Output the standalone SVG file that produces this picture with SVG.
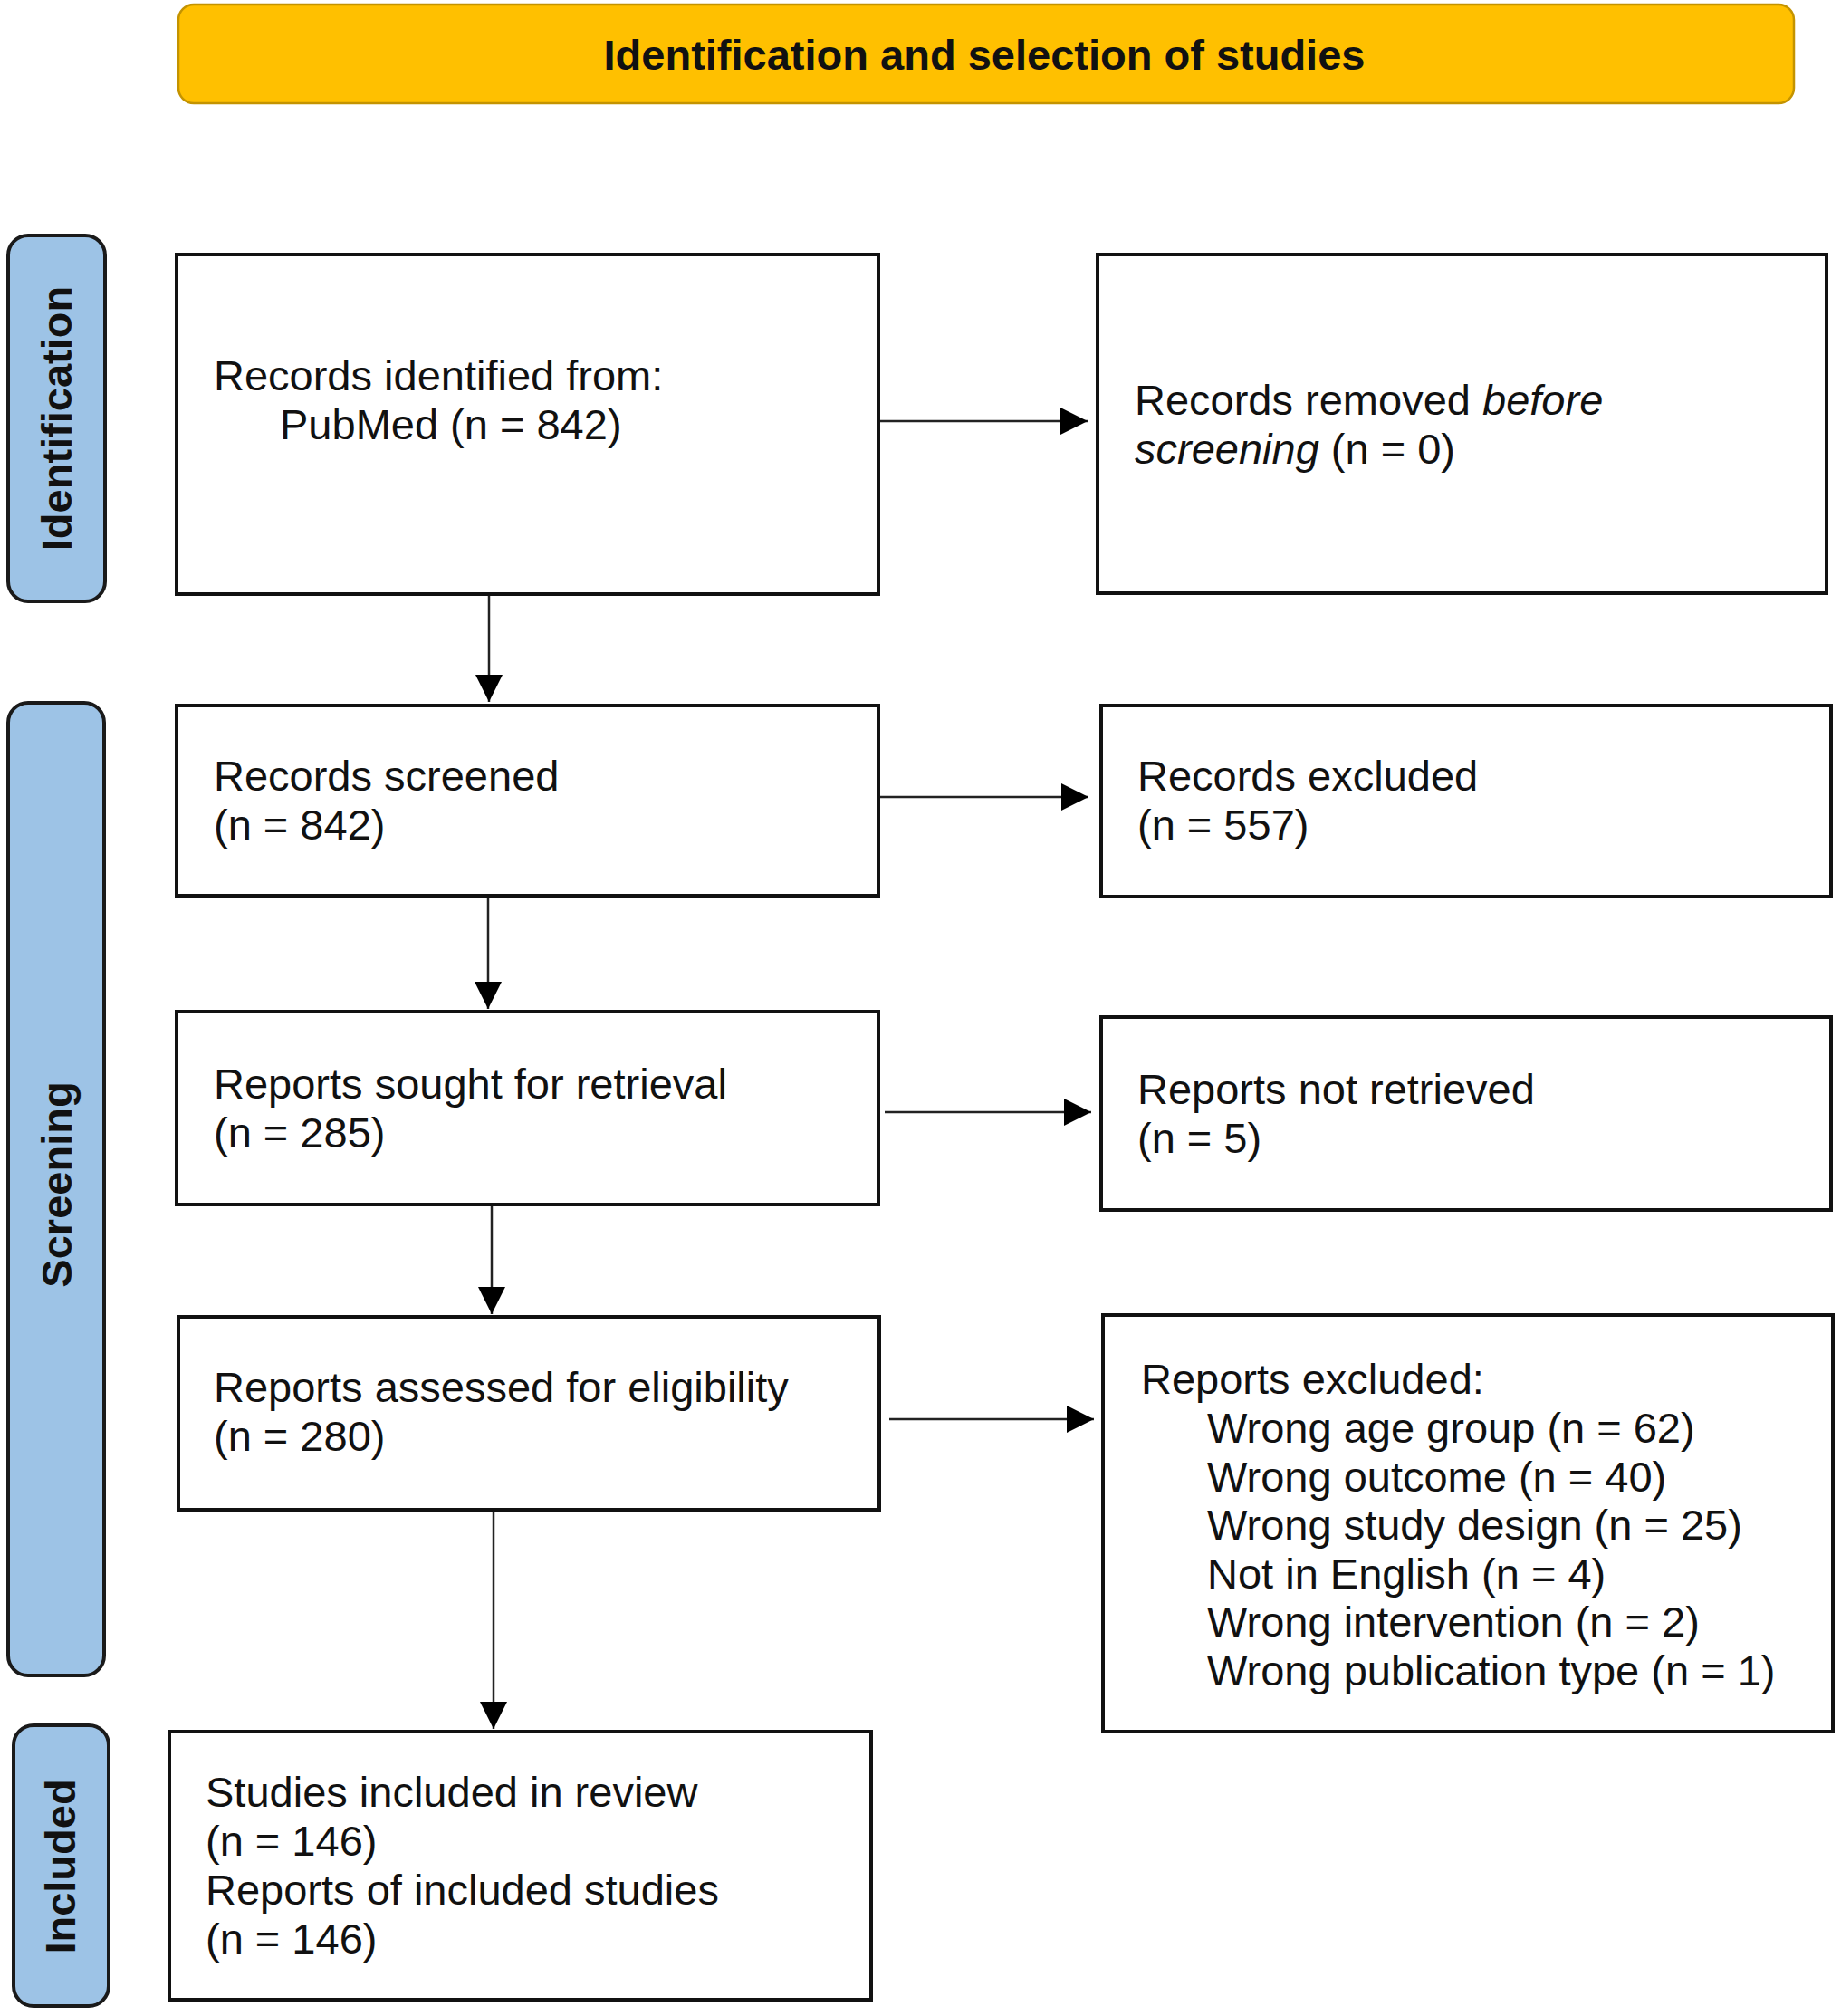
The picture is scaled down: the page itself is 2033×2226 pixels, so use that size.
<svg xmlns="http://www.w3.org/2000/svg" width="2033" height="2226" viewBox="0 0 2033 2226">
<style>
.box{fill:#ffffff;stroke:#111111;stroke-width:4}
.side{fill:#9dc3e6;stroke:#1a1a1a;stroke-width:4}
.banner{fill:#ffc000;stroke:#c49300;stroke-width:2.5}
.t{font-family:"Liberation Sans",Arial,sans-serif;font-size:47px;fill:#111111}
.b{font-family:"Liberation Sans",Arial,sans-serif;font-size:47px;font-weight:bold;fill:#111111}
.side-t{font-family:"Liberation Sans",Arial,sans-serif;font-size:47px;font-weight:bold;fill:#111111;text-anchor:middle}
.conn{stroke:#222222;stroke-width:2.5;fill:none;marker-end:url(#arrow)}
</style>
<defs>
<marker id="arrow" markerUnits="userSpaceOnUse" markerWidth="30" markerHeight="30" refX="30" refY="15" orient="auto">
<path d="M0,0 L30,15 L0,30 Z" fill="#000000"/>
</marker>
</defs>
<rect width="2033" height="2226" fill="#ffffff"/>
<g id="title">
<rect class="banner" x="197" y="5" width="1784" height="109" rx="17"/>
<text class="b" x="1087" y="77" text-anchor="middle">Identification and selection of studies</text>
</g>
<g id="label-identification">
<rect class="side" x="9" y="260" width="107" height="404" rx="22"/>
<text class="side-t" transform="translate(79,462) rotate(-90)">Identification</text>
</g>
<g id="label-screening">
<rect class="side" x="9" y="776" width="106" height="1074" rx="22"/>
<text class="side-t" transform="translate(79,1308) rotate(-90)">Screening</text>
</g>
<g id="label-included">
<rect class="side" x="15" y="1905" width="105" height="310" rx="22"/>
<text class="side-t" transform="translate(83,2061) rotate(-90)">Included</text>
</g>
<g id="records-identified">
<rect class="box" x="195" y="281" width="775" height="375"/>
<text class="t" x="236" y="431">Records identified from:</text>
<text class="t" x="309" y="485">PubMed (n = 842)</text>
</g>
<g id="records-removed">
<rect class="box" x="1212" y="281" width="805" height="374"/>
<text class="t" x="1253" y="458">Records removed <tspan font-style="italic">before</tspan></text>
<text class="t" x="1253" y="512"><tspan font-style="italic">screening</tspan> (n = 0)</text>
</g>
<g id="records-screened">
<rect class="box" x="195" y="779" width="775" height="210"/>
<text class="t" x="236" y="873">Records screened</text>
<text class="t" x="236" y="927">(n = 842)</text>
</g>
<g id="records-excluded">
<rect class="box" x="1216" y="779" width="806" height="211"/>
<text class="t" x="1256" y="873">Records excluded</text>
<text class="t" x="1256" y="927">(n = 557)</text>
</g>
<g id="reports-sought">
<rect class="box" x="195" y="1117" width="775" height="213"/>
<text class="t" x="236" y="1213">Reports sought for retrieval</text>
<text class="t" x="236" y="1267">(n = 285)</text>
</g>
<g id="reports-not-retrieved">
<rect class="box" x="1216" y="1123" width="806" height="213"/>
<text class="t" x="1256" y="1219">Reports not retrieved</text>
<text class="t" x="1256" y="1273">(n = 5)</text>
</g>
<g id="reports-assessed">
<rect class="box" x="197" y="1454" width="774" height="213"/>
<text class="t" x="236" y="1548">Reports assessed for eligibility</text>
<text class="t" x="236" y="1602">(n = 280)</text>
</g>
<g id="reports-excluded">
<rect class="box" x="1218" y="1452" width="806" height="460"/>
<text class="t" x="1260" y="1539">Reports excluded:</text>
<text class="t" x="1333" y="1593">Wrong age group (n = 62)</text>
<text class="t" x="1333" y="1647">Wrong outcome (n = 40)</text>
<text class="t" x="1333" y="1700">Wrong study design (n = 25)</text>
<text class="t" x="1333" y="1754">Not in English (n = 4)</text>
<text class="t" x="1333" y="1807">Wrong intervention (n = 2)</text>
<text class="t" x="1333" y="1861">Wrong publication type (n = 1)</text>
</g>
<g id="studies-included">
<rect class="box" x="187" y="1912" width="775" height="296"/>
<text class="t" x="227" y="1995">Studies included in review</text>
<text class="t" x="227" y="2049">(n = 146)</text>
<text class="t" x="227" y="2103">Reports of included studies</text>
<text class="t" x="227" y="2157">(n = 146)</text>
</g>
<g id="connectors">
<path class="conn" d="M972,465 H1201"/>
<path class="conn" d="M972,880 H1202"/>
<path class="conn" d="M977,1228 H1205"/>
<path class="conn" d="M982,1567 H1208"/>
<path class="conn" d="M540,658 V775"/>
<path class="conn" d="M539,991 V1114"/>
<path class="conn" d="M543,1332 V1451"/>
<path class="conn" d="M545,1669 V1909"/>
</g>
</svg>
